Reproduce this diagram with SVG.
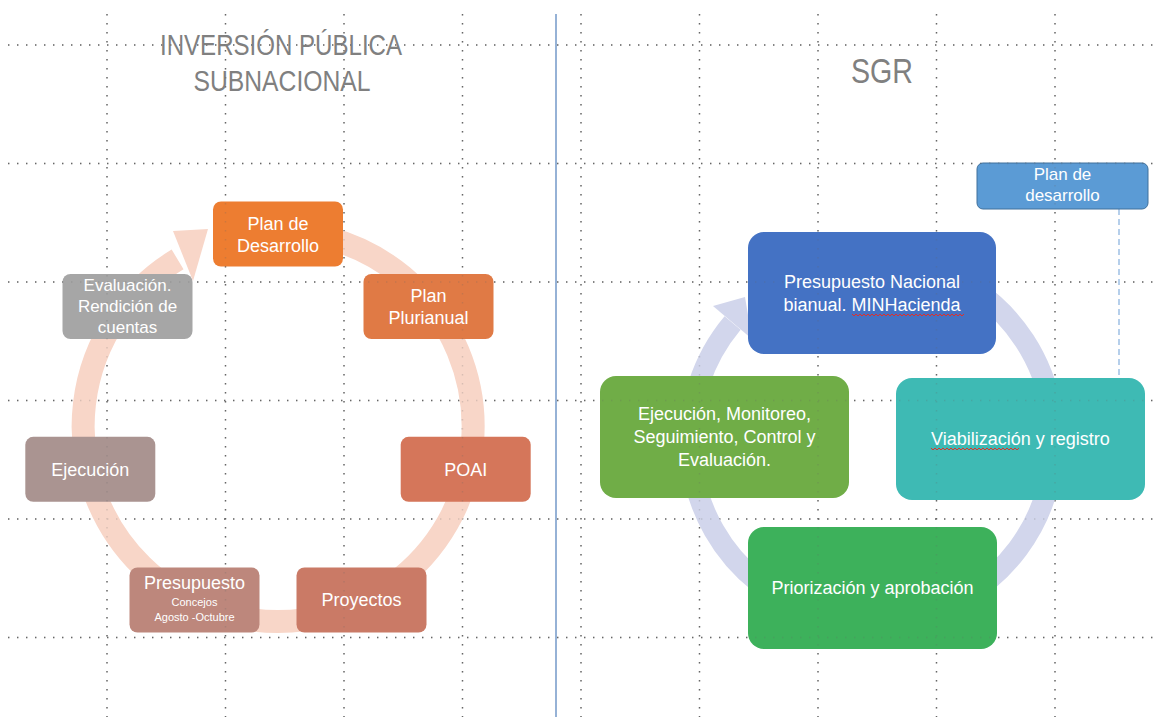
<svg xmlns="http://www.w3.org/2000/svg" xmlns:xlink="http://www.w3.org/1999/xlink" width="1156" height="717" viewBox="0 0 1156 717">
<style>
.grid line{stroke:#666;stroke-width:1.4;stroke-dasharray:1.4 7.6;fill:none}
.t{font-family:"Liberation Sans",Arial,sans-serif;fill:#fff;text-anchor:middle;font-size:18px}
.t17{font-size:17px}
.t11{font-size:11px}
.ttl{font-family:"Liberation Sans",Arial,sans-serif;fill:#808080;text-anchor:middle}
.squig{fill:none;stroke:#e0302a;stroke-width:1}
.lnode{rx:8px}
.rnode{rx:16px}
</style>
<defs>
<g id="gridlines" class="grid">
<line x1="107" y1="14" x2="107" y2="717"/>
<line x1="225.5" y1="14" x2="225.5" y2="717"/>
<line x1="344" y1="14" x2="344" y2="717"/>
<line x1="462.5" y1="14" x2="462.5" y2="717"/>
<line x1="581" y1="14" x2="581" y2="717"/>
<line x1="699.5" y1="14" x2="699.5" y2="717"/>
<line x1="818" y1="14" x2="818" y2="717"/>
<line x1="936.5" y1="14" x2="936.5" y2="717"/>
<line x1="1055" y1="14" x2="1055" y2="717"/>
<line x1="8" y1="45" x2="1156" y2="45"/>
<line x1="8" y1="163.5" x2="1156" y2="163.5"/>
<line x1="8" y1="282" x2="1156" y2="282"/>
<line x1="8" y1="400.5" x2="1156" y2="400.5"/>
<line x1="8" y1="519" x2="1156" y2="519"/>
<line x1="8" y1="637.5" x2="1156" y2="637.5"/>
</g>
</defs>
<rect width="1156" height="717" fill="#fff"/>
<use href="#gridlines"/>
<line x1="556" y1="14" x2="556" y2="717" stroke="#7399c9" stroke-width="1.5"/>

<g id="titles">
<text class="ttl" x="281" y="55" style="font-size:29px" textLength="242" lengthAdjust="spacingAndGlyphs">INVERSIÓN PÚBLICA</text>
<text class="ttl" x="282" y="91" style="font-size:29px" textLength="177" lengthAdjust="spacingAndGlyphs">SUBNACIONAL</text>
<text class="ttl" x="882" y="83" style="font-size:35px" textLength="62" lengthAdjust="spacingAndGlyphs">SGR</text>
</g>

<g id="connectors">
<path d="M328.5 238.1 A195 195 0 1 1 177.6 259.4" fill="none" stroke="#f8d6c8" stroke-width="23"/>
<polygon points="173,231 193,281 208,229" fill="#f8d6c8"/>
<path d="M976.4 290.9 A182 182 0 1 1 732.6 323" fill="none" stroke="#d2d6ec" stroke-width="21"/>
<polygon points="713,306 752,339 745,297" fill="#d2d6ec"/>
<line x1="1119" y1="209" x2="1119" y2="378" stroke="#8fb6e0" stroke-width="1.3" stroke-dasharray="6 4"/>
</g>

<g id="n-plan-desarrollo">
<rect class="lnode" x="213" y="201.5" width="130" height="65" fill="#ed7d31"/>
<text class="t" x="278" y="230">Plan de</text>
<text class="t" x="278" y="252">Desarrollo</text>
</g>
<g id="n-plan-plurianual">
<rect class="lnode" x="363.5" y="274" width="130" height="65" fill="#e07a45"/>
<text class="t" x="428.5" y="302">Plan</text>
<text class="t" x="428.5" y="324">Plurianual</text>
</g>
<g id="n-poai">
<rect class="lnode" x="400.7" y="436.8" width="130" height="65" fill="#d5765a"/>
<text class="t" x="465.7" y="475.5">POAI</text>
</g>
<g id="n-proyectos">
<rect class="lnode" x="296.5" y="567.5" width="130" height="65" fill="#ca7a66"/>
<text class="t" x="361.5" y="606">Proyectos</text>
</g>
<g id="n-presupuesto">
<rect class="lnode" x="129.5" y="567.5" width="130" height="65" fill="#bd877c"/>
<text class="t" x="194.5" y="589">Presupuesto</text>
<text class="t t11" x="194.5" y="606">Concejos</text>
<text class="t t11" x="194.5" y="621">Agosto -Octubre</text>
</g>
<g id="n-ejecucion">
<rect class="lnode" x="25.3" y="436.8" width="130" height="65" fill="#aa9491"/>
<text class="t" x="90.3" y="475.5">Ejecución</text>
</g>
<g id="n-evaluacion">
<rect class="lnode" x="62.5" y="274" width="130" height="65" fill="#a6a6a6"/>
<text class="t t17" x="127.5" y="291">Evaluación.</text>
<text class="t t17" x="127.5" y="312">Rendición de</text>
<text class="t t17" x="127.5" y="333">cuentas</text>
</g>

<g id="n-plan-de-desarrollo-sgr">
<rect x="977" y="163" width="171" height="46" rx="6" fill="#5b9bd5" stroke="#41719c" stroke-width="1"/>
<text class="t t17" x="1062.5" y="180">Plan de</text>
<text class="t t17" x="1062.5" y="201">desarrollo</text>
</g>
<g id="n-presupuesto-nacional">
<rect class="rnode" x="748" y="232" width="248" height="122" fill="#4472c4"/>
<text class="t" x="872" y="288">Presupuesto Nacional</text>
<text class="t" x="872" y="311">bianual. MINHacienda</text>
<path class="squig" d="M852 314 l2 2 2 -2 2 2 2 -2 2 2 2 -2 2 2 2 -2 2 2 2 -2 2 2 2 -2 2 2 2 -2 2 2 2 -2 2 2 2 -2 2 2 2 -2 2 2 2 -2 2 2 2 -2 2 2 2 -2 2 2 2 -2 2 2 2 -2 2 2 2 -2 2 2 2 -2 2 2 2 -2 2 2 2 -2 2 2 2 -2 2 2 2 -2 2 2 2 -2 2 2 2 -2 2 2 2 -2 2 2 2 -2 2 2 2 -2 2 2 2 -2 2 2 2 -2"/>
</g>
<g id="n-viabilizacion">
<rect class="rnode" x="896" y="378" width="249" height="122" fill="#3ebab4"/>
<text class="t" x="1020.5" y="445">Viabilización y registro</text>
<path class="squig" d="M931 448 l2 2 2 -2 2 2 2 -2 2 2 2 -2 2 2 2 -2 2 2 2 -2 2 2 2 -2 2 2 2 -2 2 2 2 -2 2 2 2 -2 2 2 2 -2 2 2 2 -2 2 2 2 -2 2 2 2 -2 2 2 2 -2 2 2 2 -2 2 2 2 -2 2 2 2 -2 2 2 2 -2 2 2 2 -2 2 2 2 -2 2 2 2 -2 2 2 2 -2"/>
</g>
<g id="n-priorizacion">
<rect class="rnode" x="748" y="527" width="249" height="122" fill="#3db15b"/>
<text class="t" x="872.5" y="594">Priorización y aprobación</text>
</g>
<g id="n-ejecucion-sgr">
<rect class="rnode" x="600" y="376" width="249" height="122" fill="#70ad47"/>
<text class="t" x="724.5" y="420">Ejecución, Monitoreo,</text>
<text class="t" x="724.5" y="443">Seguimiento, Control y</text>
<text class="t" x="724.5" y="466">Evaluación.</text>
</g>

<use href="#gridlines" opacity="0.22"/>
</svg>
